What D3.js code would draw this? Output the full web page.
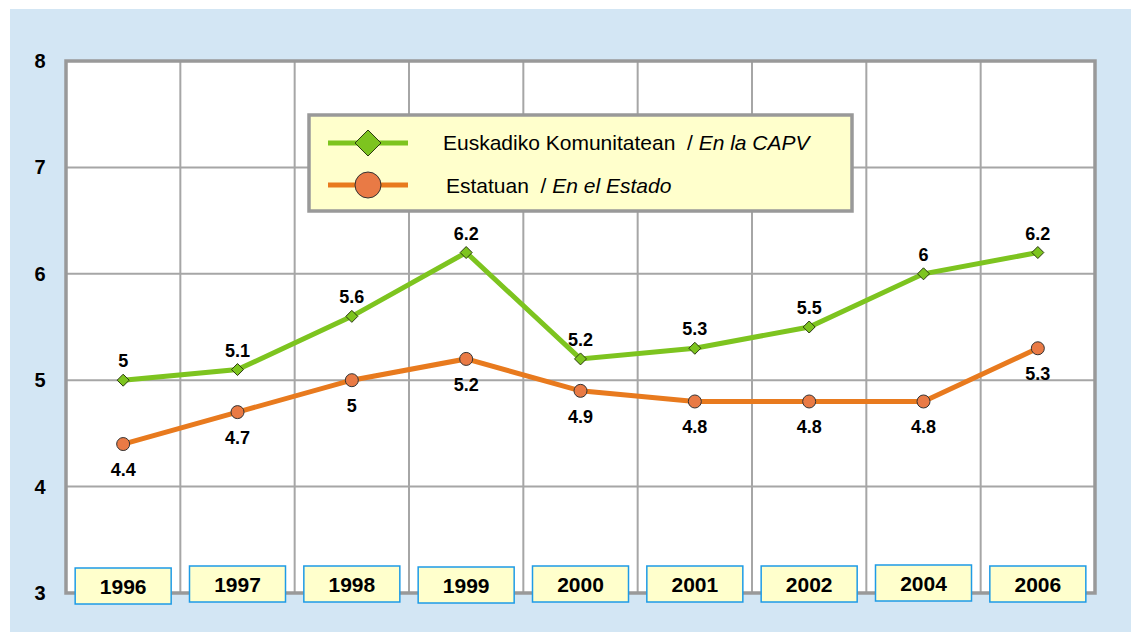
<html>
<head>
  <title>CAPV / Estado</title>
  <script src="https://d3js.org/d3.v7.min.js"></script>
  <style type="text/css">
    body { margin: 0; background: #ffffff; }
    text { font-family: Arial, "Liberation Sans", sans-serif; }
  </style>
</head>
<body>
  <svg id="chart" width="1131" height="632"></svg>

  <script type="text/javascript">
    // data
    var years = ["1996", "1997", "1998", "1999", "2000", "2001", "2002", "2004", "2006"];
    var capv = [5, 5.1, 5.6, 6.2, 5.2, 5.3, 5.5, 6, 6.2];
    var estado = [4.4, 4.7, 5, 5.2, 4.9, 4.8, 4.8, 4.8, 5.3];
    var yTicks = [3, 4, 5, 6, 7, 8];
    var boxOffset = [2, 0, 0, 1, 0, 0, 0, -1, 0]; // year boxes are slightly uneven

    var svg = d3.select("#chart");

    svg.append("rect")
      .attr("x", 10).attr("y", 9)
      .attr("width", 1121).attr("height", 623)
      .attr("fill", "#D3E6F4");

    var plot = {left: 66, right: 1095, top: 61, bottom: 593};

    var x = d3.scaleBand().domain(years).range([plot.left, plot.right]);
    var y = d3.scaleLinear().domain([3, 8]).range([plot.bottom, plot.top]);

    // plot area
    svg.append("rect")
      .attr("x", plot.left).attr("y", plot.top)
      .attr("width", plot.right - plot.left).attr("height", plot.bottom - plot.top)
      .attr("fill", "#ffffff");

    // grid
    svg.append("g").selectAll("line")
      .data(yTicks.slice(1, -1))
      .enter().append("line")
      .attr("x1", plot.left).attr("x2", plot.right)
      .attr("y1", function(d) { return y(d); })
      .attr("y2", function(d) { return y(d); })
      .attr("stroke", "#a6a6a6").attr("stroke-width", 2);

    svg.append("g").selectAll("line")
      .data(years.slice(1))
      .enter().append("line")
      .attr("x1", function(d) { return x(d); })
      .attr("x2", function(d) { return x(d); })
      .attr("y1", plot.top).attr("y2", plot.bottom)
      .attr("stroke", "#a6a6a6").attr("stroke-width", 2);

    svg.append("rect")
      .attr("x", plot.left).attr("y", plot.top)
      .attr("width", plot.right - plot.left).attr("height", plot.bottom - plot.top)
      .attr("fill", "none")
      .attr("stroke", "#999999").attr("stroke-width", 3.5);

    // y labels
    svg.append("g").selectAll("text")
      .data(yTicks)
      .enter().append("text")
      .attr("x", 40)
      .attr("y", function(d) { return y(d) + 7; })
      .attr("text-anchor", "middle")
      .attr("font-size", 20).attr("font-weight", "bold")
      .text(function(d) { return d; });

    function cx(i) { return x(years[i]) + x.bandwidth() / 2; }

    var line = d3.line()
      .x(function(d, i) { return cx(i); })
      .y(function(d) { return y(d); });

    // orange series
    svg.append("path")
      .datum(estado)
      .attr("d", line)
      .attr("fill", "none")
      .attr("stroke", "#E87A1E").attr("stroke-width", 5);

    // green series
    svg.append("path")
      .datum(capv)
      .attr("d", line)
      .attr("fill", "none")
      .attr("stroke", "#7DC41F").attr("stroke-width", 5);

    svg.append("g").selectAll("circle")
      .data(estado)
      .enter().append("circle")
      .attr("cx", function(d, i) { return cx(i); })
      .attr("cy", function(d) { return y(d); })
      .attr("r", 6.5)
      .attr("fill", "#E97A45")
      .attr("stroke", "#333333").attr("stroke-width", 1);

    svg.append("g").selectAll("path")
      .data(capv)
      .enter().append("path")
      .attr("d", "M0,-6L6,0L0,6L-6,0Z")
      .attr("transform", function(d, i) { return "translate(" + cx(i) + "," + y(d) + ")"; })
      .attr("fill", "#7DC41F")
      .attr("stroke", "#2b3a10").attr("stroke-width", 1);

    // value labels
    svg.append("g").selectAll("text")
      .data(capv)
      .enter().append("text")
      .attr("x", function(d, i) { return cx(i); })
      .attr("y", function(d) { return y(d) - 13; })
      .attr("text-anchor", "middle")
      .attr("font-size", 18).attr("font-weight", "bold")
      .text(function(d) { return d; });

    svg.append("g").selectAll("text")
      .data(estado)
      .enter().append("text")
      .attr("x", function(d, i) { return cx(i); })
      .attr("y", function(d) { return y(d) + 32; })
      .attr("text-anchor", "middle")
      .attr("font-size", 18).attr("font-weight", "bold")
      .text(function(d) { return d; });

    // year boxes
    var boxes = svg.append("g").selectAll("g")
      .data(years)
      .enter().append("g")
      .attr("transform", function(d, i) { return "translate(" + cx(i) + "," + (584 + boxOffset[i]) + ")"; });

    boxes.append("rect")
      .attr("x", -48).attr("y", -18)
      .attr("width", 96).attr("height", 36)
      .attr("fill", "#FFFFCC")
      .attr("stroke", "#1E9BE6").attr("stroke-width", 1.5);

    boxes.append("text")
      .attr("y", 8)
      .attr("text-anchor", "middle")
      .attr("font-size", 21).attr("font-weight", "bold")
      .text(function(d) { return d; });

    // legend
    var lg = svg.append("g");
    lg.append("rect")
      .attr("x", 309).attr("y", 115)
      .attr("width", 543).attr("height", 96)
      .attr("fill", "#FFFFCC")
      .attr("stroke", "#999999").attr("stroke-width", 3.5);

    lg.append("line")
      .attr("x1", 328).attr("x2", 408).attr("y1", 143).attr("y2", 143)
      .attr("stroke", "#7DC41F").attr("stroke-width", 5);
    lg.append("path")
      .attr("d", "M0,-13L13,0L0,13L-13,0Z")
      .attr("transform", "translate(368,143)")
      .attr("fill", "#7DC41F")
      .attr("stroke", "#2b3a10").attr("stroke-width", 1);

    lg.append("line")
      .attr("x1", 328).attr("x2", 408).attr("y1", 185).attr("y2", 185)
      .attr("stroke", "#E87A1E").attr("stroke-width", 5);
    lg.append("circle")
      .attr("cx", 368).attr("cy", 185).attr("r", 13)
      .attr("fill", "#E97A45")
      .attr("stroke", "#333333").attr("stroke-width", 1);

    var t1 = lg.append("text").attr("x", 443).attr("y", 150).attr("font-size", 21)
      .attr("xml:space", "preserve").style("white-space", "pre");
    t1.append("tspan").text("Euskadiko Komunitatean  / ");
    t1.append("tspan").attr("font-style", "italic").text("En la CAPV");

    var t2 = lg.append("text").attr("x", 446).attr("y", 193).attr("font-size", 21)
      .attr("xml:space", "preserve").style("white-space", "pre");
    t2.append("tspan").text("Estatuan  / ");
    t2.append("tspan").attr("font-style", "italic").text("En el Estado");
  </script>
</body>
</html>
